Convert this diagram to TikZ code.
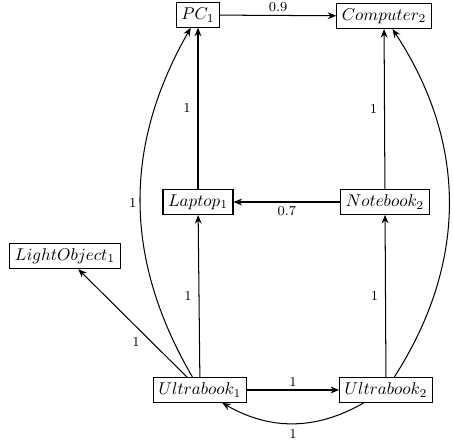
\documentclass[tikz,border=0pt]{standalone}
\usetikzlibrary{arrows.meta}
\begin{document}
\begin{tikzpicture}[x=0.587pt,y=-0.587pt,
  box/.style={draw, line width=0.6pt, inner sep=3pt, fill=white},
  arr/.style={-{Stealth[length=5pt,width=4pt]}, line width=0.6pt},
  lbl/.style={font=\footnotesize, inner sep=2pt}]
\useasboundingbox (0,0) rectangle (453,447);
\node[box] (pc) at (198,15) {$PC_1$};
\node[box] (comp) at (384,16) {$Computer_2$};
\node[box] (lap) at (198,202) {$Laptop_1$};
\node[box] (nb) at (385,202) {$Notebook_2$};
\node[box] (lo) at (65,256) {$LightObject_1$};
\node[box] (u1) at (200,390) {$Ultrabook_1$};
\node[box] (u2) at (386,390) {$Ultrabook_2$};
\draw[arr] (pc) -- node[lbl, above] {0.9} (comp);
\draw[arr] (lap) -- node[lbl, left, xshift=-2pt] {1} (pc);
\draw[arr] (nb) -- node[lbl, left, xshift=-2pt] {1} (comp);
\draw[arr] (nb) -- node[lbl, below] {0.7} (lap);
\draw[arr] (u1) -- node[lbl, left, xshift=-2pt] {1} (lap);
\draw[arr] (u2) -- node[lbl, left, xshift=-2pt] {1} (nb);
\draw[arr] (u1) -- node[lbl, below left, pos=0.4] {1} (lo);
\draw[arr] (u1) -- node[lbl, above] {1} (u2);
\draw[arr] (u2) to[bend left=30] node[lbl, below, yshift=-1pt] {1} (u1);
\draw[arr] (u1) to[bend left=30] node[lbl, left] {1} (pc);
\draw[arr] (u2) to[bend right=33] node[lbl, right, xshift=3pt] {1} (comp);
\end{tikzpicture}
\end{document}
